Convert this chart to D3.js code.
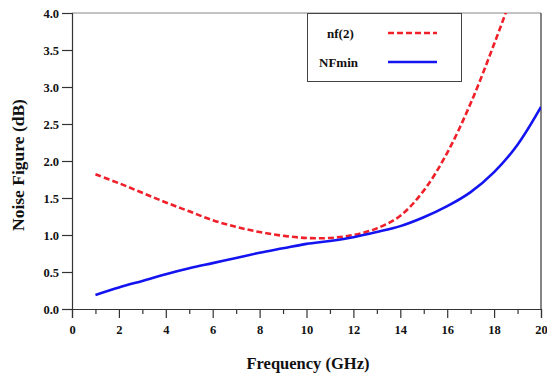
<!DOCTYPE html>
<html><head><meta charset="utf-8">
<script src="https://cdn.jsdelivr.net/npm/d3@7"></script>
<style>body{margin:0;background:#fff}svg{display:block}</style>
</head><body><svg id="c" width="547" height="376"></svg>
<script>
const freq = [1,2,3,4,5,6,7,8,9,10,11,12,13,14,15,16,17,18,19,20];
const nf2 = [1.82,1.70,1.57,1.44,1.32,1.20,1.11,1.04,0.99,0.96,0.96,1.00,1.09,1.26,1.60,2.11,2.78,3.58,4.45,5.40];
const nfmin = [0.19,0.29,0.38,0.47,0.55,0.62,0.69,0.76,0.82,0.88,0.92,0.97,1.04,1.12,1.24,1.39,1.58,1.85,2.22,2.73];
const xTicks = [0,2,4,6,8,10,12,14,16,18,20];
const xMinor = [1,3,5,7,9,11,13,15,17,19];
const yTicks = [0,0.5,1,1.5,2,2.5,3,3.5,4];
const seriesNames = ["nf(2)","NFmin"];

const FONT = "'Liberation Serif','Times New Roman',serif";
const svg = d3.select("#c");
const L=72,R=541,T=13,B=309;
const x = d3.scaleLinear().domain([0,20]).range([L,R]);
const y = d3.scaleLinear().domain([0,4]).range([B,T]);

svg.append("defs").append("clipPath").attr("id","clip").append("rect")
  .attr("x",L).attr("y",T).attr("width",R-L).attr("height",B-T);

// frame
svg.append("line").attr("x1",L).attr("x2",R).attr("y1",T).attr("y2",T).attr("stroke","#888").attr("stroke-width",1);
svg.append("line").attr("x1",R).attr("x2",R).attr("y1",T).attr("y2",B).attr("stroke","#333").attr("stroke-width",1.2);

// x axis
svg.append("g").attr("transform",`translate(0,${B})`)
  .call(d3.axisBottom(x).tickValues(xTicks).tickFormat(d3.format("d")).tickSize(9).tickPadding(7));
svg.append("g").attr("transform",`translate(0,${B})`)
  .call(d3.axisBottom(x).tickValues(xMinor).tickFormat("").tickSize(5))
  .select(".domain").remove();
// y axis
svg.append("g").attr("transform",`translate(${L},0)`)
  .call(d3.axisLeft(y).tickValues(yTicks).tickFormat(d3.format(".1f")).tickSize(10).tickPadding(3));
svg.selectAll("g").attr("font-family",null);
svg.selectAll(".tick text").attr("font-size",12.5).style("font-family",FONT).style("font-weight","bold").attr("fill","#111");
svg.selectAll(".domain, .tick line").attr("stroke","#333").attr("stroke-width",1.2);

// lines
const line = d3.line().x((d,i)=>x(freq[i])).y(d=>y(d)).curve(d3.curveCatmullRom.alpha(0.5));
const gl = svg.append("g").attr("clip-path","url(#clip)");
gl.append("path").datum(nf2).attr("d",line).attr("fill","none").attr("stroke","#f0202a").attr("stroke-width",2.6).attr("stroke-dasharray","6,3");
gl.append("path").datum(nfmin).attr("d",line).attr("fill","none").attr("stroke","#1414f0").attr("stroke-width",2.6);

// legend
const lg = svg.append("g");
lg.append("rect").attr("x",307.5).attr("y",13.5).attr("width",154).attr("height",68).attr("fill","#fff").attr("stroke","#444").attr("stroke-width",1);
const t = (sel)=>sel.style("font-family",FONT).style("font-weight","bold").attr("fill","#111");
lg.append("text").attr("x",327).attr("y",38).attr("font-size",13).text(seriesNames[0]).call(t);
lg.append("text").attr("x",319).attr("y",67).attr("font-size",13).text(seriesNames[1]).call(t);
lg.append("line").attr("x1",388).attr("x2",437).attr("y1",33).attr("y2",33).attr("stroke","#f0202a").attr("stroke-width",2.6).attr("stroke-dasharray","6,3");
lg.append("line").attr("x1",388).attr("x2",437).attr("y1",62).attr("y2",62).attr("stroke","#1414f0").attr("stroke-width",2.6);

// titles
svg.append("text").attr("x",308).attr("y",369).attr("text-anchor","middle").attr("font-size",16.5).text("Frequency (GHz)").call(t);
svg.append("text").attr("transform","translate(24,165) rotate(-90)").attr("text-anchor","middle").attr("font-size",17.5).text("Noise Figure (dB)").call(t);
</script></body></html>
